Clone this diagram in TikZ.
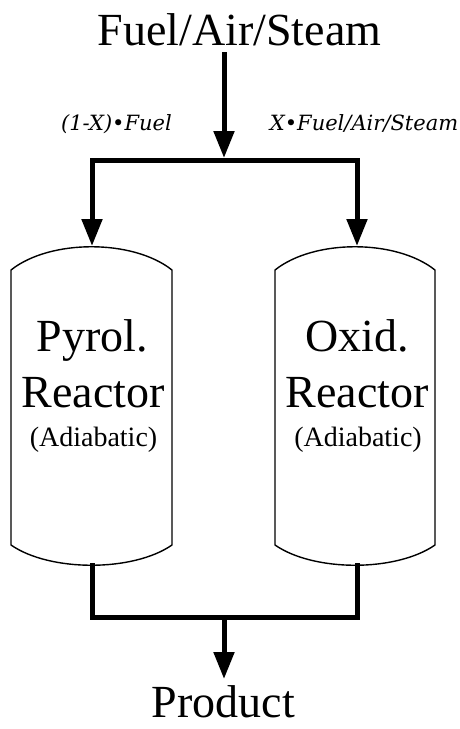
\documentclass[tikz,border=0pt]{standalone}
\usepackage{fontspec}
\setmainfont{Liberation Serif}
\newfontfamily\slabfont{DejaVu Serif}
\usetikzlibrary{arrows.meta}
\begin{document}
\begin{tikzpicture}[x=1pt,y=-1pt,
  pipe/.style={line width=5pt},
  flow/.style={pipe,-{Triangle[length=27pt,width=20pt]}},
  vessel/.style={line width=1.4pt,line join=round},
  bigtext/.style={font=\fontsize{46}{50}\selectfont,inner sep=0pt,anchor=base},
  subtext/.style={font=\fontsize{28}{30}\selectfont,inner sep=0pt,anchor=base},
  streamlabel/.style={font=\slabfont\itshape\fontsize{21}{23}\selectfont,inner sep=0pt,anchor=base}]
\useasboundingbox (0,0) rectangle (460,729);

% reactor vessels: straight sides with domed heads
\draw[vessel] (11,270) -- (11,545) .. controls (50,572) and (133,572) .. (172,545)
  -- (172,270) .. controls (133,239) and (50,239) .. (11,270) -- cycle;
\draw[vessel] (275,270) -- (275,545) .. controls (314,572) and (396,572) .. (435,545)
  -- (435,270) .. controls (396,239) and (314,239) .. (275,270) -- cycle;

% inlet / outlet points of the vessels
\coordinate (pyrin) at (92,246);
\coordinate (oxin) at (357,246);
\coordinate (pyrout) at (92,563);
\coordinate (oxout) at (357,563);
\coordinate (feedstart) at (224,52);
\coordinate (feedtip) at (224,158);
\coordinate (split) at (224,160);
\coordinate (merge) at (224,617);
\coordinate (prodtip) at (224,679);

% texts
\node[bigtext] (feed) at (239.5,45) {Fuel/Air/Steam};
\node[bigtext] (product) at (223.5,717) {Product};
\node[streamlabel] (lfeed) at (116.5,130) {(1-X)•Fuel};
\node[streamlabel] (rfeed) at (364,130) {X•Fuel/Air/Steam};

\node[bigtext] (pyr1) at (92.5,351) {Pyrol.};
\node[bigtext] (pyr2) at (93,407) {Reactor};
\node[subtext] (pyr3) at (93.5,446) {(Adiabatic)};
\node[bigtext] (ox1) at (357,351) {Oxid.};
\node[bigtext] (ox2) at (357,407) {Reactor};
\node[subtext] (ox3) at (358,446) {(Adiabatic)};

% feed splitting
\draw[flow] (feedstart) -- (feedtip);
\draw[flow] (split) -| (pyrin);
\draw[flow] (split) -| (oxin);

% product collection
\draw[pipe] (pyrout) |- (merge) -| (oxout);
\draw[flow] (merge) -- (prodtip);
\end{tikzpicture}
\end{document}
